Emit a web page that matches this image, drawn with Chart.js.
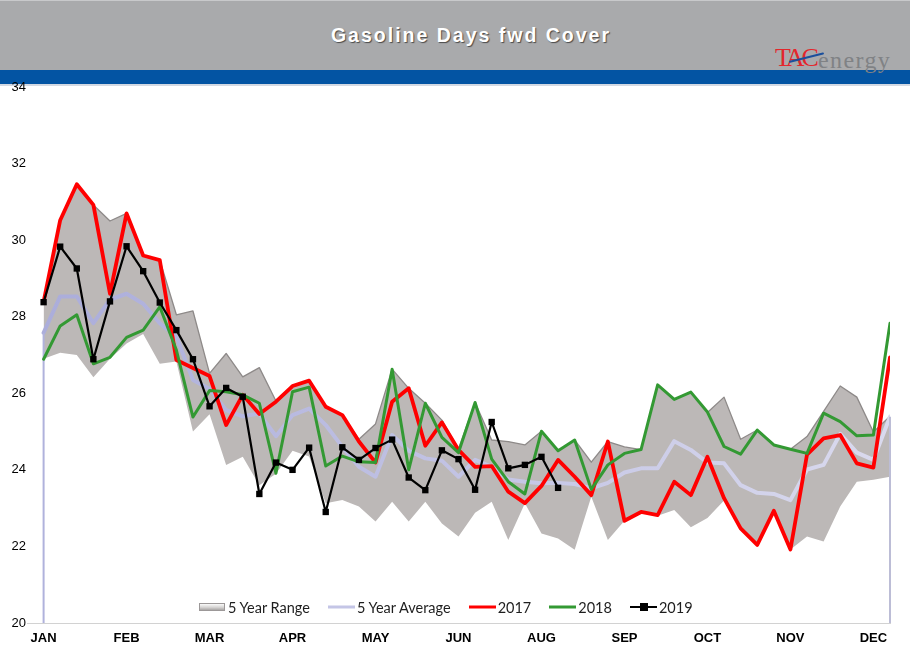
<!DOCTYPE html>
<html><head><meta charset="utf-8">
<script src="https://cdn.jsdelivr.net/npm/chart.js@4.4.1/dist/chart.umd.min.js"></script>
<style>
html,body{margin:0;padding:0;background:#fff;}
#wrap{position:relative;width:910px;height:661px;overflow:hidden;background:#fff;}
#hdr{position:absolute;left:0;top:0;width:910px;height:70px;background:#a9aaac;border-top:1px solid #c8c9cb;box-sizing:border-box;}
#band{position:absolute;left:0;top:70px;width:910px;height:14px;background:#0354a3;}
#band2{position:absolute;left:0;top:84px;width:910px;height:2px;background:#d3d9e3;}
#title{position:absolute;left:0;top:24px;width:942px;text-align:center;font:bold 19.5px 'Liberation Sans',Arial,sans-serif;letter-spacing:2px;color:#fff;text-shadow:1px 1px 1px #4a4a4a;white-space:nowrap;}
.lg{position:absolute;white-space:nowrap;font-family:'Liberation Serif','Times New Roman',serif;line-height:1;}
#swoosh{position:absolute;left:789px;top:61px;width:36px;height:2px;background:#1b4f9c;transform:rotate(-14deg);transform-origin:left center;border-radius:1px;}
canvas{position:absolute;left:0;top:0;z-index:5;}
#legend{position:absolute;left:199px;top:598px;height:18px;display:flex;align-items:center;z-index:6;font:14.5px Lato,'Open Sans',sans-serif;color:#1e1e1e;white-space:nowrap;}
#legend .it{display:flex;align-items:center;margin-right:18px;}
#legend .ic{position:relative;width:27px;height:18px;margin-right:2px;}
#legend .ln{position:absolute;left:0;right:0;top:50%;transform:translateY(-50%);}
#legend .box{position:absolute;left:0;width:26px;top:5px;height:8px;background:linear-gradient(#fafafa,#d6d4d3 55%,#a9a6a5);border:1px solid #9c9898;box-sizing:border-box;}
#legend .sq{position:absolute;left:10px;top:5px;width:8px;height:8px;background:#000;}
</style>
</head><body>
<div id="wrap">
  <div id="hdr"></div>
  <div id="band"></div>
  <div id="band2"></div>
  <div id="title">Gasoline Days fwd Cover</div>
  <div class="lg" style="left:775px;top:45px;font-size:26px;color:#e3262c;letter-spacing:-3px;">TAC</div>
  <div class="lg" style="left:818px;top:48px;font-size:24px;color:#808285;letter-spacing:1.4px;">energy</div>
  <div id="swoosh"></div>
  <canvas id="c" width="910" height="661"></canvas>
  <div id="legend">
    <div class="it"><div class="ic"><div class="box"></div></div><span>5 Year Range</span></div>
    <div class="it"><div class="ic"><div class="ln" style="height:3px;background:#c4c5e6;"></div></div><span>5 Year Average</span></div>
    <div class="it"><div class="ic"><div class="ln" style="height:3px;background:#ff0000;"></div></div><span>2017</span></div>
    <div class="it"><div class="ic"><div class="ln" style="height:3px;background:#339933;"></div></div><span>2018</span></div>
    <div class="it"><div class="ic"><div class="ln" style="height:2px;background:#000;"></div><div class="sq"></div></div><span>2019</span></div>
  </div>
</div>
<script>
// ---- data (weekly, 52 weeks) ----
const monthLabels = ['JAN','FEB','MAR','APR','MAY','JUN','AUG','SEP','OCT','NOV','DEC'];
const monthTickWeeks = [0,5,10,15,20,25,30,35,40,45,50];
const yMin = 20, yMax = 34, yStep = 2;

const rangeHigh = [28.4,30.52,31.46,30.92,30.5,30.7,29.6,29.48,28.05,28.15,26.52,27.04,26.43,26.67,25.8,26.2,26.33,25.65,25.43,24.8,25.2,26.63,26.13,25.74,25.3,24.55,25.76,24.78,24.74,24.65,25.01,24.5,24.78,24.2,24.74,24.6,24.53,26.22,25.84,26.03,25.5,25.9,24.8,25.04,24.65,24.54,24.87,25.53,26.19,25.9,24.99,25.4];
const rangeLow  = [26.9,27.06,27.0,26.42,26.9,27.3,27.55,26.77,26.83,25.0,25.45,24.13,24.34,23.6,23.9,24.5,24.35,23.13,23.21,23.04,22.65,23.17,22.65,23.17,22.6,22.26,22.88,23.17,22.17,23.13,22.34,22.21,21.91,23.3,22.17,22.67,22.9,22.8,22.95,22.5,22.74,23.2,22.47,22.04,22.9,21.92,22.26,22.13,23.04,23.69,23.74,23.82];
const avg5 = [27.58,28.53,28.53,27.83,28.45,28.6,28.34,27.83,27.48,26.35,26.11,25.56,25.4,25.47,24.88,25.43,25.6,25.17,24.6,24.08,23.82,24.91,24.5,24.3,24.24,23.82,24.26,24.08,23.75,23.69,23.65,23.66,23.63,23.52,23.66,23.93,24.04,24.04,24.75,24.52,24.19,24.17,23.6,23.4,23.37,23.21,24.01,24.13,24.94,24.45,24.26,25.39];
const y2017 = [28.39,30.52,31.46,30.92,28.6,30.7,29.6,29.48,26.87,26.66,26.45,25.17,25.96,25.46,25.78,26.19,26.33,25.65,25.43,24.74,24.19,25.78,26.13,24.63,25.24,24.52,24.08,24.1,23.43,23.13,23.58,24.26,23.82,23.34,24.74,22.67,22.9,22.82,23.69,23.34,24.34,23.26,22.47,22.04,22.93,21.92,24.4,24.82,24.91,24.17,24.06,26.94];
const y2018 = [26.89,27.76,28.05,26.77,26.94,27.46,27.65,28.26,27.13,25.38,26.07,26.04,25.96,25.74,23.91,26.04,26.16,24.1,24.36,24.21,24.19,26.63,24.0,25.74,24.85,24.45,25.76,24.28,23.69,23.37,25.01,24.5,24.78,23.49,24.13,24.43,24.53,26.22,25.84,26.03,25.51,24.61,24.41,25.04,24.65,24.54,24.43,25.48,25.26,24.89,24.91,27.83];
const y2019 = [28.38,29.83,29.26,26.89,28.4,29.84,29.19,28.37,27.65,26.89,25.66,26.14,25.91,23.37,24.19,24.0,24.58,22.9,24.59,24.26,24.57,24.79,23.8,23.47,24.51,24.28,23.48,25.25,24.04,24.13,24.34,23.53];

const pts = arr => arr.map((v, i) => ({x: i, y: v}));

const avgGradient = (ctx) => {
  const ch = ctx.chart, ca = ch.chartArea;
  if (!ca) return '#c2c3e5';
  const g = ch.ctx.createLinearGradient(ca.left, 0, ca.right, 0);
  g.addColorStop(0, '#aaacda');
  g.addColorStop(1, '#dadaee');
  return g;
};

const dropLines = {
  id: 'dropLines',
  afterDatasetDraw(chart, args) {
    if (args.index !== 3) return;
    const xs = chart.scales.x, ys = chart.scales.y, c = chart.ctx;
    c.save();
    c.lineWidth = 2;
    [[0, '#b0b2dc'], [avg5.length - 1, '#bcbdd6']].forEach(([i, col]) => {
      const x = xs.getPixelForValue(i);
      c.strokeStyle = col;
      c.beginPath();
      c.moveTo(x, ys.getPixelForValue(avg5[i]));
      c.lineTo(x, chart.chartArea.bottom);
      c.stroke();
    });
    c.restore();
  }
};

const lineBase = {pointRadius: 0, tension: 0, borderJoinStyle: 'round', borderCapStyle: 'round'};

new Chart(document.getElementById('c'), {
  type: 'line',
  data: {
    datasets: [
      Object.assign({}, lineBase, {label: '2019', data: pts(y2019), borderColor: '#000', borderWidth: 2.2,
        pointStyle: 'rect', pointRadius: 4.5, pointBackgroundColor: '#000', pointBorderColor: '#000', pointBorderWidth: 0}),
      Object.assign({}, lineBase, {label: '2018', data: pts(y2018), borderColor: '#339933', borderWidth: 3}),
      Object.assign({}, lineBase, {label: '2017', data: pts(y2017), borderColor: '#ff0000', borderWidth: 3.8}),
      Object.assign({}, lineBase, {label: '5 Year Average', data: pts(avg5), borderColor: avgGradient, borderWidth: 4}),
      Object.assign({}, lineBase, {label: '5 Year Range', data: pts(rangeHigh), borderColor: '#8e8a89', borderWidth: 1.3,
        backgroundColor: '#bcb8b7', fill: 5}),
      Object.assign({}, lineBase, {label: 'range low', data: pts(rangeLow), borderColor: 'rgba(0,0,0,0)', borderWidth: 0, fill: false})
    ]
  },
  plugins: [dropLines],
  options: {
    responsive: false,
    animation: false,
    events: [],
    layout: {padding: {top: 87, left: 0, right: 20, bottom: 0}},
    plugins: {legend: {display: false}, tooltip: {enabled: false}},
    scales: {
      x: {
        type: 'linear', min: -1, max: 51,
        grid: {display: false, drawTicks: false},
        border: {display: true, color: '#d2d2d2', width: 1},
        afterBuildTicks: s => { s.ticks = monthTickWeeks.map(v => ({value: v})); },
        afterFit: s => { s.height = 38; },
        ticks: {
          autoSkip: false, maxRotation: 0, padding: 8, color: '#000',
          font: {family: "'Liberation Sans Narrow','Liberation Sans',Arial,sans-serif", size: 13, weight: 'bold'},
          callback: v => { const k = monthTickWeeks.indexOf(v); return k >= 0 ? monthLabels[k] : ''; }
        }
      },
      y: {
        min: yMin, max: yMax,
        grid: {display: false, drawTicks: false},
        border: {display: false},
        afterFit: s => { s.width = 27; },
        ticks: {stepSize: yStep, padding: 1, color: '#000',
          font: {family: "'Liberation Sans',Arial,sans-serif", size: 13}}
      }
    }
  }
});
</script>
</body></html>
